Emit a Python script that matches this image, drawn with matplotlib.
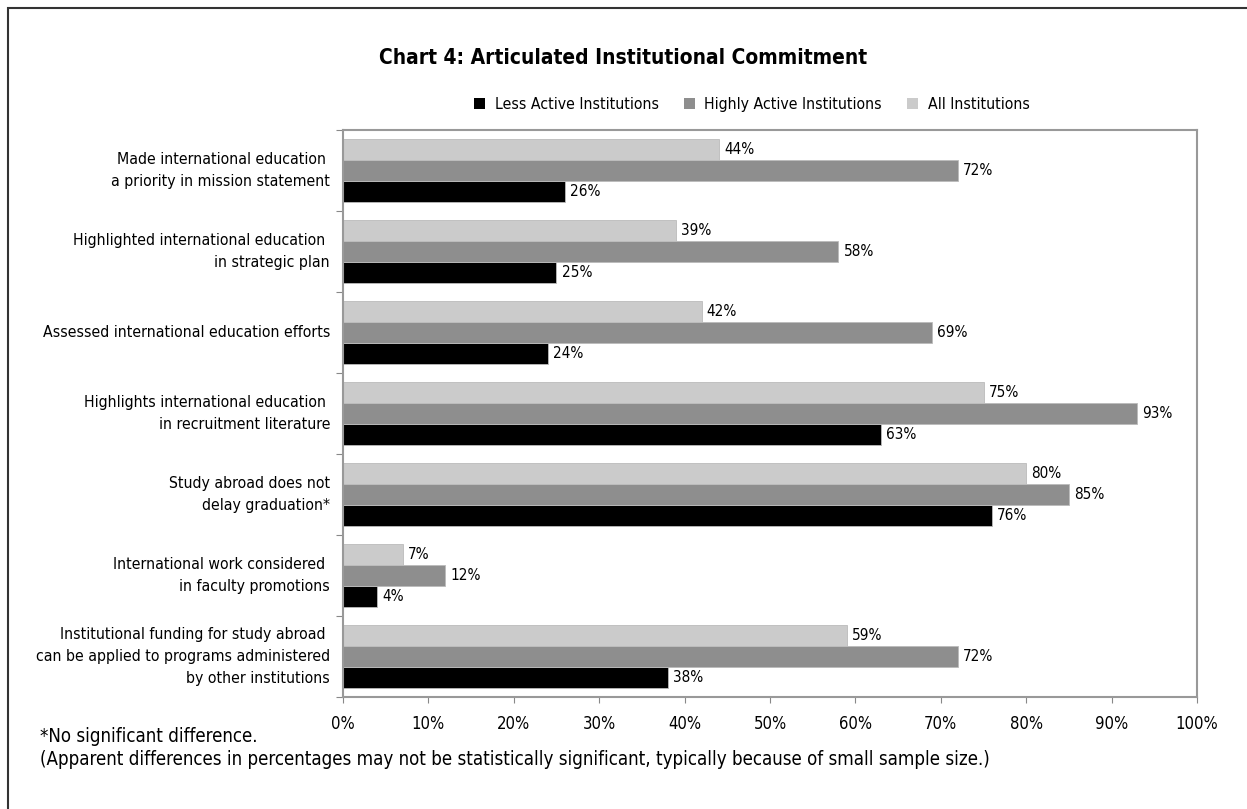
import numpy as np
import matplotlib.pyplot as plt
from matplotlib.patches import Patch, Rectangle

# kategorien und werte (prozent)
categories = [
    "Made international education \na priority in mission statement",
    "Highlighted international education \nin strategic plan",
    "Assessed international education efforts",
    "Highlights international education \nin recruitment literature",
    "Study abroad does not\ndelay graduation*",
    "International work considered \nin faculty promotions",
    "Institutional funding for study abroad \ncan be applied to programs administered\nby other institutions",
]
less_active = [26, 25, 24, 63, 76, 4, 38]
highly_active = [72, 58, 69, 93, 85, 12, 72]
all_inst = [44, 39, 42, 75, 80, 7, 59]
series_names = ["Less Active Institutions", "Highly Active Institutions", "All Institutions"]
xticks = [0, 10, 20, 30, 40, 50, 60, 70, 80, 90, 100]

# schmale schrift (DejaVu Sans Condensed)
plt.rcParams['font.family'] = ['DejaVu Sans']
plt.rcParams['font.stretch'] = 'condensed'

fig = plt.figure(figsize=(12.47, 8.09), dpi=100)
ax = fig.add_axes([0.275, 0.1385, 0.685, 0.7005])

n = len(categories)
y = np.arange(n)[::-1]  # erste kategorie oben
h = 0.26
colors = ['#000000', '#8e8e8e', '#cbcbcb']
vals = [less_active, highly_active, all_inst]
offs = [-h, 0, h]

for v, c, o in zip(vals, colors, offs):
    bars = ax.barh(y + o, v, height=h, color=c, edgecolor='#bbbbbb', linewidth=0.6)
    for b, val in zip(bars, v):
        ax.text(b.get_width() + 0.6, b.get_y() + b.get_height() / 2, f"{val}%",
                va='center', ha='left', fontsize=11)

ax.set_xlim(0, 100)
ax.set_ylim(-0.5, n - 0.5)
ax.set_xticks(xticks)
ax.set_xticklabels([f"{t}%" for t in xticks], fontsize=12)
ax.tick_params(axis='x', length=4, color='#888888', pad=9)

# y-ticks an gruppengrenzen, beschriftung mittig
ax.set_yticks(np.arange(-0.5, n, 1.0))
ax.set_yticklabels([])
ax.tick_params(axis='y', length=5, color='#888888')
for yy, lab in zip(y, categories):
    ax.text(-1.5, yy, lab, ha='right', va='center', fontsize=11.3,
            linespacing=1.6, transform=ax.transData)

for s in ax.spines.values():
    s.set_color('#999999')
    s.set_linewidth(1.5)

fig.text(0.5, 0.928, "Chart 4: Articulated Institutional Commitment",
         ha='center', va='center', fontsize=15, fontweight='bold')

handles = [Patch(facecolor=c) for c in colors]
fig.legend(handles, series_names, loc='center', bbox_to_anchor=(0.603, 0.871),
           ncol=3, frameon=False, fontsize=11.3, handlelength=0.7, handleheight=0.7,
           columnspacing=1.6, handletextpad=0.6)

fig.text(0.032, 0.089, "*No significant difference.", fontsize=13.4, va='center')
fig.text(0.032, 0.061, "(Apparent differences in percentages may not be statistically "
         "significant, typically because of small sample size.)", fontsize=13.4, va='center')

# rahmen um das ganze bild
fig.patches.append(Rectangle((0.0065, -0.01), 1.2, 0.9995, transform=fig.transFigure,
                             fill=False, edgecolor='#333333', linewidth=1.5))

fig.savefig('out.png', dpi=100)
